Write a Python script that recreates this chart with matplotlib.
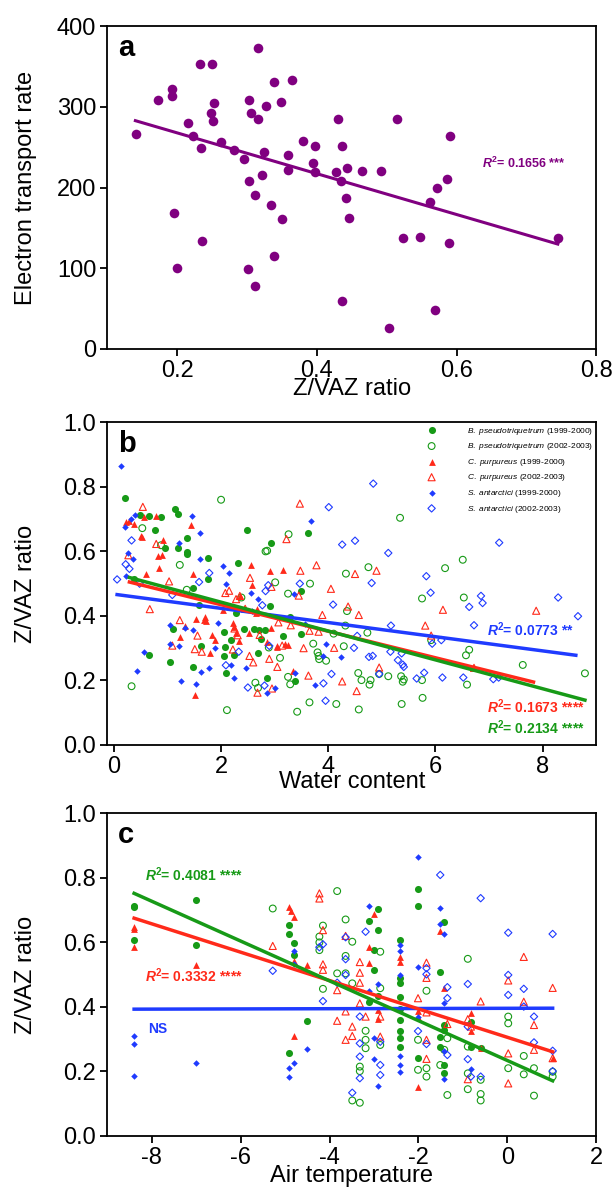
import numpy as np
from matplotlib import pyplot as plt
from matplotlib.ticker import FormatStrFormatter

plt.rcParams['font.family'] = ['Liberation Sans', 'DejaVu Sans']
plt.rcParams['axes.unicode_minus'] = False
plt.rcParams['mathtext.fontset'] = 'custom'
plt.rcParams['mathtext.rm'] = 'Liberation Sans'
plt.rcParams['mathtext.it'] = 'Liberation Sans:italic'
plt.rcParams['mathtext.bf'] = 'Liberation Sans:bold'
plt.rcParams['mathtext.bfit'] = 'Liberation Sans:italic:bold'

#-------------------------------------------------- data
# panel a : electron transport rate vs Z/VAZ ratio
zvaz_a = [0.141, 0.173, 0.192, 0.193, 0.196, 0.200, 0.216, 0.222, 0.233, 0.234, 0.236, 0.248,
          0.250, 0.252, 0.251, 0.262, 0.281, 0.296, 0.303, 0.305, 0.303, 0.301, 0.311, 0.311,
          0.315, 0.316, 0.322, 0.324, 0.327, 0.334, 0.338, 0.339, 0.349, 0.350, 0.358, 0.358,
          0.365, 0.380, 0.394, 0.397, 0.397, 0.428, 0.430, 0.435, 0.436, 0.436, 0.441, 0.443,
          0.446, 0.465, 0.492, 0.503, 0.515, 0.523, 0.547, 0.562, 0.569, 0.572, 0.587, 0.589,
          0.590, 0.745]
etr_a = [267, 309, 322, 313, 168, 100, 280, 264, 353, 249, 134, 293,
         353, 305, 282, 257, 247, 235, 308, 292, 208, 99, 191, 78,
         285, 373, 216, 244, 301, 179, 331, 115, 306, 161, 241, 222,
         333, 258, 230, 252, 219, 219, 285, 208, 59, 252, 187, 224,
         162, 220, 221, 26, 285, 137, 139, 182, 48, 200, 211, 131,
         264, 138]
fit_a_x = [0.14, 0.745]
fit_a_y = [283, 130]

# panel b : Z/VAZ vs water content
bp99_wc = [0.21, 0.37, 0.49, 0.65, 0.66, 0.77, 0.88, 0.95, 1.04, 1.10, 1.14, 1.19, 1.19, 1.36, 1.37,
           1.37, 1.48, 1.48, 1.59, 1.62, 1.75, 1.75, 2.05, 2.06, 2.08, 2.09, 2.19, 2.25, 2.28, 2.31,
           2.43, 2.49, 2.62, 2.69, 2.70, 2.75, 2.82, 2.86, 2.92, 2.94, 3.16, 3.28, 3.38, 3.49, 3.49, 3.62]
bp99_zb = [0.765, 0.515, 0.714, 0.278, 0.711, 0.667, 0.706, 0.609, 0.258, 0.358, 0.732, 0.716, 0.609, 0.641, 0.598,
           0.593, 0.243, 0.486, 0.433, 0.306, 0.580, 0.513, 0.351, 0.276, 0.304, 0.222, 0.326, 0.278, 0.408, 0.564,
           0.359, 0.665, 0.359, 0.284, 0.356, 0.327, 0.357, 0.209, 0.432, 0.627, 0.339, 0.396, 0.197, 0.478, 0.345, 0.656]
bp02_wc = [0.33, 0.53, 0.88, 1.23, 1.36, 2.00, 2.38, 2.11, 2.64, 2.69, 2.83, 2.86, 2.89, 3.01, 3.10,
           3.26, 3.25, 3.25, 3.29, 3.42, 3.66, 3.65, 3.72, 3.80, 3.82, 3.83, 3.96, 4.10, 4.15, 4.29,
           4.32, 4.33, 4.35, 4.56, 4.57, 4.62, 4.73, 4.75, 4.77, 4.79, 4.95, 5.12, 5.34, 5.36, 5.37,
           5.39, 5.41, 5.75, 5.75, 5.76, 5.92, 6.18, 6.51, 6.53, 6.57, 6.63, 6.59, 7.63, 8.79]
bp02_zb = [0.182, 0.672, 0.619, 0.558, 0.481, 0.760, 0.457, 0.108, 0.193, 0.177, 0.600, 0.602, 0.302, 0.504, 0.270,
           0.653, 0.469, 0.211, 0.188, 0.103, 0.500, 0.132, 0.314, 0.287, 0.276, 0.266, 0.261, 0.345, 0.127, 0.306,
           0.370, 0.531, 0.415, 0.223, 0.110, 0.201, 0.348, 0.551, 0.187, 0.201, 0.220, 0.213, 0.704, 0.213, 0.127,
           0.196, 0.203, 0.454, 0.201, 0.146, 0.325, 0.548, 0.574, 0.457, 0.278, 0.295, 0.187, 0.248, 0.222]
cp99_wc = [0.23, 0.29, 0.37, 0.51, 0.53, 0.57, 0.60, 0.79, 0.82, 0.84, 0.89, 0.92, 1.23, 1.32, 1.43,
           1.47, 1.52, 1.54, 1.68, 1.70, 1.72, 1.80, 1.84, 1.88, 2.03, 2.23, 2.25, 2.28, 2.33, 2.35,
           2.55, 2.57, 2.53, 2.67, 2.66, 2.86, 2.91, 2.94, 3.04, 3.05, 3.16, 3.20, 3.24, 3.35]
cp99_zb = [0.690, 0.694, 0.684, 0.649, 0.643, 0.708, 0.531, 0.709, 0.587, 0.549, 0.590, 0.636, 0.334, 0.369, 0.681,
           0.531, 0.154, 0.389, 0.387, 0.396, 0.384, 0.285, 0.340, 0.326, 0.419, 0.377, 0.365, 0.347, 0.322, 0.463,
           0.557, 0.495, 0.348, 0.420, 0.409, 0.319, 0.538, 0.364, 0.305, 0.308, 0.543, 0.312, 0.310, 0.230]
cp02_wc = [0.27, 0.54, 0.67, 0.79, 1.03, 1.09, 1.23, 1.51, 1.56, 1.64, 2.08, 2.15, 2.22, 2.25, 2.28,
           2.31, 2.35, 2.45, 2.54, 2.53, 2.60, 2.68, 2.72, 2.90, 2.94, 2.95, 3.05, 3.07, 3.14, 3.22,
           3.30, 3.47, 3.45, 3.48, 3.54, 3.63, 3.65, 3.78, 3.82, 3.89, 4.05, 4.11, 4.26, 4.37, 4.50,
           4.53, 4.57, 4.90, 4.95, 5.81, 5.92, 6.14, 6.72, 7.88]
cp02_zb = [0.588, 0.738, 0.421, 0.623, 0.507, 0.308, 0.387, 0.297, 0.339, 0.289, 0.471, 0.478, 0.296, 0.361, 0.452,
           0.340, 0.462, 0.422, 0.518, 0.276, 0.256, 0.162, 0.341, 0.267, 0.490, 0.175, 0.242, 0.380, 0.308, 0.638,
           0.371, 0.748, 0.463, 0.540, 0.300, 0.215, 0.354, 0.557, 0.351, 0.403, 0.484, 0.301, 0.197, 0.429, 0.530,
           0.167, 0.403, 0.540, 0.240, 0.370, 0.339, 0.419, 0.239, 0.416]
sa99_wc = [0.13, 0.21, 0.22, 0.26, 0.32, 0.35, 0.39, 0.44, 0.56, 1.05, 1.05, 1.21, 1.21, 1.26, 1.32,
           1.45, 1.48, 1.53, 1.60, 1.60, 1.63, 1.78, 1.89, 1.94, 2.04, 2.09, 2.14, 2.19, 2.24, 2.46,
           2.55, 2.57, 2.68, 2.86, 3.01, 3.38, 3.36, 3.67, 3.76, 3.95, 3.90, 4.23, 3.56]
sa99_zb = [0.864, 0.674, 0.524, 0.596, 0.701, 0.575, 0.714, 0.229, 0.287, 0.314, 0.371, 0.627, 0.306, 0.199, 0.363,
           0.709, 0.356, 0.188, 0.658, 0.576, 0.227, 0.240, 0.302, 0.377, 0.556, 0.500, 0.533, 0.249, 0.209, 0.237,
           0.471, 0.415, 0.452, 0.160, 0.178, 0.222, 0.467, 0.695, 0.185, 0.312, 0.276, 0.273, 0.376]
sa02_wc = [0.06, 0.22, 0.29, 0.33, 0.48, 1.09, 1.59, 1.78, 2.09, 2.33, 2.50, 2.81, 2.83, 2.88, 2.90,
           2.77, 3.47, 4.01, 3.91, 3.95, 4.06, 4.09, 4.26, 4.48, 4.50, 4.54, 4.76, 4.81, 4.84, 4.83,
           4.95, 5.12, 5.17, 5.16, 5.30, 5.37, 5.39, 5.41, 5.65, 5.79, 5.83, 5.91, 5.94, 6.11, 6.13,
           6.52, 6.63, 6.72, 6.85, 6.88, 7.08, 7.18, 7.19, 8.29, 8.66]
sa02_zb = [0.513, 0.560, 0.546, 0.634, 0.500, 0.465, 0.505, 0.533, 0.247, 0.289, 0.178, 0.184, 0.477, 0.495, 0.307,
           0.433, 0.500, 0.737, 0.191, 0.137, 0.220, 0.435, 0.621, 0.301, 0.633, 0.338, 0.273, 0.502, 0.810, 0.276,
           0.220, 0.595, 0.370, 0.289, 0.263, 0.284, 0.249, 0.242, 0.206, 0.224, 0.523, 0.472, 0.314, 0.325, 0.209,
           0.209, 0.428, 0.371, 0.462, 0.440, 0.204, 0.209, 0.627, 0.457, 0.399]
fit_b_sa = ([0.06, 8.62], [0.466, 0.278])
fit_b_cp = ([0.29, 7.83], [0.505, 0.195])
fit_b_bp = ([0.29, 8.79], [0.519, 0.139])

# panel c : Z/VAZ vs air temperature
bp99_t = [-8.40, -8.40, -8.40, -7.00, -7.00, -4.91, -4.91, -4.81, -4.81, -4.91, -4.52, -3.11, -3.11, -3.00,
          -3.00, -2.91, -2.91, -2.91, -2.41, -2.41, -2.41, -2.41, -2.41, -2.41, -2.41, -2.41, -2.41, -2.01,
          -2.01, -2.01, -1.51, -1.51, -1.51, -1.42, -1.42, -1.42, -1.42, -1.42, -0.82, -0.82, -0.60]
bp99_zc = [0.714, 0.709, 0.607, 0.730, 0.591, 0.654, 0.625, 0.599, 0.562, 0.256, 0.357, 0.666, 0.415, 0.576,
           0.514, 0.702, 0.638, 0.434, 0.607, 0.489, 0.475, 0.430, 0.394, 0.360, 0.325, 0.303, 0.277, 0.764,
           0.713, 0.242, 0.507, 0.306, 0.277, 0.663, 0.344, 0.329, 0.220, 0.196, 0.354, 0.275, 0.273]
bp02_t = [-5.28, -4.23, -4.23, -4.23, -4.15, -4.15, -3.83, -3.83, -3.64, -3.64, -3.64, -3.49, -3.49, -3.49,
          -3.32, -3.32, -3.32, -3.19, -3.19, -3.19, -2.86, -2.86, -2.86, -2.01, -2.01, -1.82, -1.82, -1.82,
          -1.51, -1.42, -1.35, -1.35, -0.89, -0.89, -0.89, -0.89, -0.60, -0.60, -0.60, 0.02, 0.02, 0.02,
          0.37, 0.37, 0.60, 0.60, 1.02, 1.02]
bp02_zc = [0.705, 0.618, 0.600, 0.576, 0.652, 0.456, 0.759, 0.504, 0.671, 0.558, 0.504, 0.602, 0.473, 0.110,
           0.215, 0.201, 0.103, 0.326, 0.298, 0.272, 0.571, 0.458, 0.282, 0.298, 0.205, 0.450, 0.210, 0.184,
           0.220, 0.267, 0.303, 0.127, 0.549, 0.277, 0.194, 0.145, 0.174, 0.130, 0.110, 0.370, 0.349, 0.210,
           0.248, 0.191, 0.210, 0.125, 0.199, 0.184]
cp99_t = [-8.40, -8.40, -8.40, -7.00, -4.91, -4.88, -4.81, -4.81, -4.81, -4.52, -3.11, -3.11, -3.00,
          -2.91, -2.91, -2.41, -2.41, -2.01, -2.01, -2.01, -1.51, -1.42, -0.82, -0.82, -0.60, 1.02]
cp99_zc = [0.649, 0.643, 0.585, 0.529, 0.711, 0.697, 0.680, 0.542, 0.311, 0.529, 0.587, 0.537, 0.688,
           0.390, 0.363, 0.556, 0.539, 0.386, 0.370, 0.151, 0.635, 0.459, 0.380, 0.326, 0.273, 0.241]
cp02_t = [-5.28, -4.23, -4.23, -4.15, -4.15, -4.15, -3.83, -3.83, -3.64, -3.64, -3.64, -3.49, -3.49, -3.32,
          -3.32, -3.32, -3.32, -3.19, -2.86, -2.86, -2.01, -1.82, -1.82, -1.82, -1.82, -1.82, -1.35, -0.89,
          -0.89, -0.82, -0.60, 0.02, 0.02, 0.02, 0.37, 0.37, 0.60, 0.60, 1.02, 1.02]
cp02_zc = [0.589, 0.752, 0.736, 0.638, 0.532, 0.515, 0.452, 0.357, 0.620, 0.386, 0.298, 0.339, 0.310, 0.539,
           0.506, 0.475, 0.411, 0.370, 0.370, 0.308, 0.427, 0.537, 0.490, 0.383, 0.298, 0.239, 0.347, 0.362,
           0.176, 0.339, 0.417, 0.482, 0.256, 0.163, 0.555, 0.416, 0.344, 0.267, 0.459, 0.241]
sa99_t = [-8.40, -8.40, -8.40, -7.00, -4.91, -4.91, -4.81, -4.81, -4.81, -4.52, -3.11, -3.11, -3.00, -3.00,
          -2.91, -2.91, -2.41, -2.41, -2.41, -2.41, -2.41, -2.41, -2.01, -2.01, -2.01, -1.51, -1.51, -1.42,
          -1.42, -1.42, -1.42, -0.82]
sa99_zc = [0.311, 0.285, 0.186, 0.225, 0.210, 0.182, 0.227, 0.573, 0.533, 0.271, 0.713, 0.449, 0.305, 0.239,
           0.470, 0.155, 0.592, 0.574, 0.499, 0.248, 0.221, 0.197, 0.864, 0.523, 0.370, 0.708, 0.656, 0.625,
           0.413, 0.176, 0.264, 0.209]
sa02_t = [-5.28, -4.23, -4.15, -4.15, -3.83, -3.64, -3.64, -3.64, -3.49, -3.32, -3.32, -3.32, -3.32, -3.19,
          -2.86, -2.86, -2.86, -2.01, -1.82, -1.82, -1.82, -1.51, -1.35, -1.35, -1.35, -0.89, -0.89, -0.89,
          -0.82, -0.60, -0.60, 0.02, 0.02, 0.02, 0.37, 0.37, 0.60, 0.60, 1.02, 1.02, 1.02]
sa02_zc = [0.512, 0.585, 0.594, 0.418, 0.475, 0.616, 0.548, 0.499, 0.134, 0.370, 0.287, 0.246, 0.179, 0.633,
           0.292, 0.220, 0.189, 0.325, 0.520, 0.501, 0.285, 0.809, 0.461, 0.427, 0.251, 0.471, 0.339, 0.238,
           0.184, 0.737, 0.184, 0.630, 0.499, 0.437, 0.456, 0.401, 0.370, 0.290, 0.626, 0.264, 0.201]
fit_c_sa = ([-8.40, 1.02], [0.393, 0.396])
fit_c_cp = ([-8.40, 1.02], [0.675, 0.261])
fit_c_bp = ([-8.40, 1.02], [0.752, 0.171])

labels = [r'$\mathit{B.\ pseudotriquetrum}$ (1999-2000)',
          r'$\mathit{B.\ pseudotriquetrum}$ (2002-2003)',
          r'$\mathit{C.\ purpureus}$ (1999-2000)',
          r'$\mathit{C.\ purpureus}$ (2002-2003)',
          r'$\mathit{S.\ antarctici}$ (1999-2000)',
          r'$\mathit{S.\ antarctici}$ (2002-2003)']

#-------------------------------------------------- style
purple = '#800080'
green = '#179a17'
red = '#ff2a1a'
blue = '#1f3bff'


def style_axes(ax):
    for sp in ax.spines.values():
        sp.set_linewidth(1.3)
    ax.tick_params(direction='out', length=5, width=1.3, labelsize=17, pad=3)
    ax.yaxis.set_label_coords(-0.145, 0.5)


def draw_groups(ax, groups):
    hs = []
    for (x, y, col, mk, filled, sz) in groups:
        if filled:
            h = ax.scatter(x, y, s=sz, marker=mk, color=col, linewidths=0, zorder=2)
        else:
            h = ax.scatter(x, y, s=sz, marker=mk, facecolors='none', edgecolors=col,
                           linewidths=0.8, zorder=2)
        hs.append(h)
    return hs


fig = plt.figure(figsize=(6.14, 11.95), dpi=100)
ax_a = fig.add_axes([0.175, 0.708, 0.796, 0.270])
ax_b = fig.add_axes([0.175, 0.3766, 0.796, 0.270])
ax_c = fig.add_axes([0.175, 0.0494, 0.796, 0.270])

#-------------------------------------------------- panel a
ax_a.scatter(zvaz_a, etr_a, s=48, color=purple, linewidths=0, zorder=2)
ax_a.plot(fit_a_x, fit_a_y, '-', color=purple, lw=2.2, zorder=3)
ax_a.set_xlim(0.1, 0.8)
ax_a.set_ylim(0, 400)
ax_a.set_xticks([0.2, 0.4, 0.6, 0.8])
ax_a.set_yticks([0, 100, 200, 300, 400])
ax_a.set_xlabel('Z/VAZ ratio', fontsize=17, labelpad=-3)
ax_a.set_ylabel('Electron transport rate', fontsize=17)
ax_a.text(0.636, 230, r'$\mathbfit{R}^{\mathbf{2}}$= 0.1656 ***', color=purple,
          fontsize=9, fontweight='bold', va='center')
ax_a.text(0.022, 0.975, 'a', transform=ax_a.transAxes, fontsize=21, fontweight='bold', va='top')
style_axes(ax_a)

#-------------------------------------------------- panel b
groups_b = [(bp99_wc, bp99_zb, green, 'o', True, 26),
            (bp02_wc, bp02_zb, green, 'o', False, 24),
            (cp99_wc, cp99_zb, red, '^', True, 24),
            (cp02_wc, cp02_zb, red, '^', False, 26),
            (sa99_wc, sa99_zb, blue, 'D', True, 11),
            (sa02_wc, sa02_zb, blue, 'D', False, 14)]
hs = draw_groups(ax_b, groups_b)
ax_b.plot(*fit_b_sa, '-', color=blue, lw=2.5, zorder=3)
ax_b.plot(*fit_b_cp, '-', color=red, lw=2.5, zorder=3)
ax_b.plot(*fit_b_bp, '-', color=green, lw=2.5, zorder=4)
ax_b.set_xlim(-0.12, 9.0)
ax_b.set_ylim(0, 1.0)
ax_b.set_xticks([0, 2, 4, 6, 8])
ax_b.set_yticks([0.0, 0.2, 0.4, 0.6, 0.8, 1.0])
ax_b.yaxis.set_major_formatter(FormatStrFormatter('%.1f'))
ax_b.set_xlabel('Water content', fontsize=17, labelpad=-5)
ax_b.set_ylabel('Z/VAZ ratio', fontsize=17)
ax_b.text(6.97, 0.356, r'$\mathbfit{R}^{\mathbf{2}}$= 0.0773 **', color=blue,
          fontsize=10, fontweight='bold', va='center')
ax_b.text(6.97, 0.119, r'$\mathbfit{R}^{\mathbf{2}}$= 0.1673 ****', color=red,
          fontsize=10, fontweight='bold', va='center')
ax_b.text(6.97, 0.055, r'$\mathbfit{R}^{\mathbf{2}}$= 0.2134 ****', color=green,
          fontsize=10, fontweight='bold', va='center')
ax_b.text(0.022, 0.975, 'b', transform=ax_b.transAxes, fontsize=21, fontweight='bold', va='top')
ax_b.legend(hs, labels, loc='upper right', frameon=False, fontsize=6, scatterpoints=1,
            handletextpad=3.2, labelspacing=0.55, borderaxespad=0.2, borderpad=0.2)
style_axes(ax_b)

#-------------------------------------------------- panel c
groups_c = [(bp99_t, bp99_zc, green, 'o', True, 26),
            (bp02_t, bp02_zc, green, 'o', False, 24),
            (cp99_t, cp99_zc, red, '^', True, 24),
            (cp02_t, cp02_zc, red, '^', False, 26),
            (sa99_t, sa99_zc, blue, 'D', True, 11),
            (sa02_t, sa02_zc, blue, 'D', False, 14)]
draw_groups(ax_c, groups_c)
ax_c.plot(*fit_c_sa, '-', color=blue, lw=2.5, zorder=3)
ax_c.plot(*fit_c_cp, '-', color=red, lw=2.5, zorder=3)
ax_c.plot(*fit_c_bp, '-', color=green, lw=2.5, zorder=4)
ax_c.set_xlim(-9, 2)
ax_c.set_ylim(0, 1.0)
ax_c.set_xticks([-8, -6, -4, -2, 0, 2])
ax_c.set_yticks([0.0, 0.2, 0.4, 0.6, 0.8, 1.0])
ax_c.yaxis.set_major_formatter(FormatStrFormatter('%.1f'))
ax_c.set_xlabel('Air temperature', fontsize=17, labelpad=-3)
ax_c.set_ylabel('Z/VAZ ratio', fontsize=17)
ax_c.text(-8.15, 0.809, r'$\mathbfit{R}^{\mathbf{2}}$= 0.4081 ****', color=green,
          fontsize=10, fontweight='bold', va='center')
ax_c.text(-8.15, 0.497, r'$\mathbfit{R}^{\mathbf{2}}$= 0.3332 ****', color=red,
          fontsize=10, fontweight='bold', va='center')
ax_c.text(-8.09, 0.332, 'NS', color=blue, fontsize=10, fontweight='bold', va='center')
ax_c.text(0.022, 0.975, 'c', transform=ax_c.transAxes, fontsize=21, fontweight='bold', va='top')
style_axes(ax_c)

plt.savefig('out.png', dpi=100)
